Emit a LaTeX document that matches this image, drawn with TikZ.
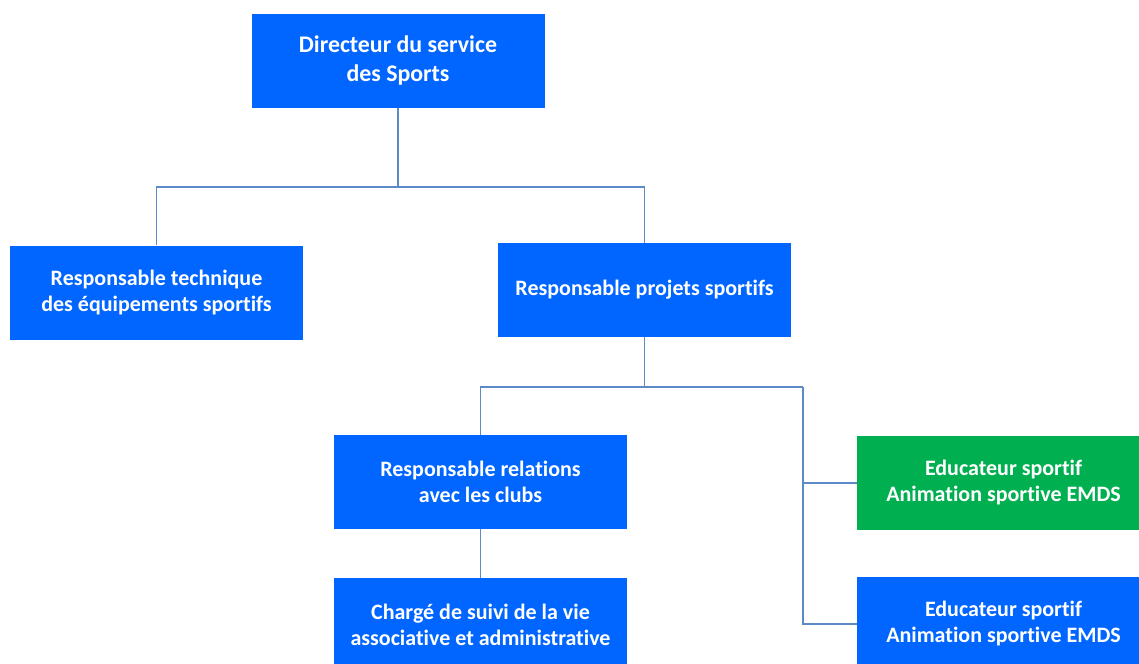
\documentclass[tikz,border=0pt]{standalone}
\usepackage{fontspec}
\setmainfont[Ligatures=NoCommon]{Carlito}
\definecolor{boxblue}{HTML}{0066FF}
\definecolor{boxgreen}{HTML}{00B050}
\definecolor{linkblue}{HTML}{5B8AC6}
\tikzset{
  hv/.style={to path={-| (\tikztotarget)}},
  vh/.style={to path={|- (\tikztotarget)}}
}
\begin{document}
\begin{tikzpicture}[x=0.75pt,y=-0.75pt]
    \useasboundingbox (0,0) rectangle (1139,664);
    \begin{scope}[every node/.style={rectangle,fill=boxblue,text=white,align=center,
        font=\fontsize{16.5}{19.5}\selectfont\bfseries,inner sep=0pt,
        minimum width=219.75pt,minimum height=70.5pt}]
      \node (dir)[font=\fontsize{17.9}{21.75}\selectfont\bfseries] at (398,61) {Directeur du service\\des Sports};
      \node (tech) at (156.5,292.5) {Responsable technique\\des équipements sportifs};
      \node (proj) at (644.5,290) {Responsable projets sportifs};
      \node (rel) at (480.5,482) {Responsable relations\\avec les clubs};
      \node (suivi) at (480.5,625) {Chargé de suivi de la vie\\associative et administrative};
      \node (edu1)[fill=boxgreen] at (1003.5,483) {Educateur sportif\\Animation sportive EMDS};
      \node (edu2) at (1003.5,624) {Educateur sportif\\Animation sportive EMDS};
    \end{scope}
    \coordinate (j1) at (398,187);
    \coordinate (j2) at (644.5,387);
    \coordinate (j3) at (803,387);
    \begin{scope}[every edge/.style={draw=linkblue,line width=1.1pt}]
      \path (dir) edge (j1)
            (j1) edge[hv] (tech)
            (j1) edge[hv] (proj)
            (proj) edge (j2)
            (j2) edge[hv] (rel)
            (j2) edge (j3)
            (j3) edge[vh] (edu1)
            (j3) edge[vh] (edu2)
            (rel) edge (suivi);
    \end{scope}
\end{tikzpicture}
\end{document}
